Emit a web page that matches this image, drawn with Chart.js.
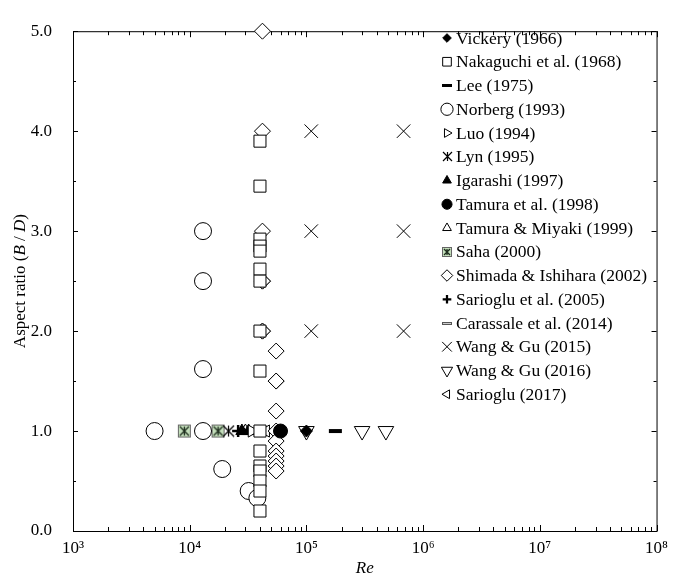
<!DOCTYPE html>
<html lang="en">
<head>
<meta charset="UTF-8">
<title>Aspect ratio vs Re</title>
<script src="https://cdn.jsdelivr.net/npm/chart.js@4"></script>
<style>
  body { margin: 0; background: #fff; }
  canvas { display: block; }
</style>
</head>
<body>
<canvas id="chart" width="675" height="581"></canvas>
<script>
// values, as [Re, B/D]
const vickery = [[1e5, 1.0]];
const nakaguchi = [[4e4, 3.9], [4e4, 3.45], [4e4, 2.92], [4e4, 2.85], [4e4, 2.8], [4e4, 2.62], [4e4, 2.5],
                   [4e4, 2.0], [4e4, 1.6], [4e4, 1.0], [4e4, 0.8], [4e4, 0.65], [4e4, 0.6], [4e4, 0.5], [4e4, 0.4], [4e4, 0.2]];
const lee = [[1.77e5, 1.0]];
const norberg = [[5e3, 1.0], [1.3e4, 1.0], [1.3e4, 1.62], [1.3e4, 2.5], [1.3e4, 3.0], [1.9e4, 0.62], [3.2e4, 0.4], [3.8e4, 0.33]];
const luo = [[3.4e4, 1.0]];
const lyn = [[2.15e4, 1.0]];
const igarashi = [[2.8e4, 1.0], [3.2e4, 1.0]];
const tamura = [[6e4, 1.0]];
const tamuraMiyaki = [[3.0e4, 1.0]];
const saha = [[9e3, 1.0], [1.75e4, 1.0]];
const shimada = [[4.2e4, 5.0], [4.2e4, 4.0], [4.2e4, 3.0], [4.2e4, 2.5], [4.2e4, 2.5], [4.2e4, 2.0], [4.2e4, 2.0],
                 [5.5e4, 1.8], [5.5e4, 1.5], [5.5e4, 1.5], [5.5e4, 1.2], [5.5e4, 1.0], [5.5e4, 0.9], [5.5e4, 0.8],
                 [5.5e4, 0.75], [5.5e4, 0.7], [5.5e4, 0.65], [5.5e4, 0.6]];
const sarioglu05 = [[2.6e4, 1.0]];
const carassale = [[3.7e4, 1.0]];
const wangGu15 = [[1.1e5, 2.0], [1.1e5, 3.0], [1.1e5, 4.0], [6.8e5, 2.0], [6.8e5, 3.0], [6.8e5, 4.0]];
const wangGu16 = [[1e5, 1.0], [3e5, 1.0], [4.8e5, 1.0]];
const sarioglu17 = [[4.5e4, 1.0]];

const seriesNames = ['Vickery (1966)', 'Nakaguchi et al. (1968)', 'Lee (1975)', 'Norberg (1993)', 'Luo (1994)',
  'Lyn (1995)', 'Igarashi (1997)', 'Tamura et al. (1998)', 'Tamura & Miyaki (1999)', 'Saha (2000)',
  'Shimada & Ishihara (2002)', 'Sarioglu et al. (2005)', 'Carassale et al. (2014)', 'Wang & Gu (2015)',
  'Wang & Gu (2016)', 'Sarioglu (2017)'];
const series = [vickery, nakaguchi, lee, norberg, luo, lyn, igarashi, tamura, tamuraMiyaki, saha,
  shimada, sarioglu05, carassale, wangGu15, wangGu16, sarioglu17];

const xTickValues = [1e3, 1e4, 1e5, 1e6, 1e7, 1e8];
const xTickLabels = ['10³', '10⁴', '10⁵', '10⁶', '10⁷', '10⁸'];
const yTickValues = [0, 1, 2, 3, 4, 5];

const FONT = '"Liberation Serif", "Times New Roman", serif';

// marker look for each series
const markers = [
  { style: 'rectRot', r: 6, fill: '#000' },
  { style: 'rect', r: 8.5 },
  { custom: 'lee' },
  { style: 'circle', r: 8.5 },
  { style: 'triangle', r: 7, rot: 90 },
  { custom: 'lyn' },
  { style: 'triangle', r: 7, fill: '#000' },
  { style: 'circle', r: 7, fill: '#000' },
  { style: 'triangle', r: 7 },
  { custom: 'saha' },
  { style: 'rectRot', r: 8 },
  { style: 'cross', r: 6, bw: 2.5 },
  { custom: 'carassale' },
  { style: 'crossRot', r: 9.5 },
  { style: 'triangle', r: 9, rot: 180 },
  { style: 'triangle', r: 7, rot: 270 }
];

function makeCanvas(kind, k) {
  const c = document.createElement('canvas');
  const g = c.getContext('2d');
  if (kind === 'lee' || kind === 'carassale') {
    c.width = Math.round(13 * k) + 2;
    c.height = Math.round(4 * k) + 2;
    if (kind === 'lee') {
      g.fillStyle = '#000';
      g.fillRect(1, 1, c.width - 2, c.height - 2);
    } else {
      g.fillStyle = '#ccc';
      g.fillRect(1, 1, c.width - 2, c.height - 2);
      g.strokeStyle = '#555';
      g.lineWidth = 1;
      g.strokeRect(1.5, 1.5, c.width - 3, c.height - 3);
    }
  } else if (kind === 'saha') {
    const s = Math.round(13 * k);
    c.width = c.height = s + 2;
    g.fillStyle = '#c4dfbb';
    g.fillRect(1, 1, s, s);
    g.strokeStyle = '#666';
    g.lineWidth = 1;
    g.strokeRect(1.5, 1.5, s - 1, s - 1);
    g.strokeStyle = '#1c2c1c';
    g.lineWidth = 1.3;
    g.beginPath();
    g.moveTo(3, 3); g.lineTo(s - 1, s - 1);
    g.moveTo(s - 1, 3); g.lineTo(3, s - 1);
    g.moveTo(c.width / 2, 3); g.lineTo(c.width / 2, s - 1);
    g.stroke();
  } else if (kind === 'lyn') {
    const s = Math.round(11 * k);
    c.width = c.height = s + 2;
    g.strokeStyle = '#000';
    g.lineWidth = 1.2;
    g.beginPath();
    g.moveTo(1, 1); g.lineTo(s + 1, s + 1);
    g.moveTo(s + 1, 1); g.lineTo(1, s + 1);
    g.moveTo(c.width / 2, 1); g.lineTo(c.width / 2, s + 1);
    g.stroke();
  }
  return c;
}

markers.forEach(m => {
  if (m.custom) {
    m.canvas = makeCanvas(m.custom, 1);
    m.legendCanvas = makeCanvas(m.custom, 0.8);
  }
});

// simple marker painter for the legend
function drawShape(g, m, x, y, k) {
  if (m.custom) {
    const img = m.legendCanvas;
    g.drawImage(img, Math.round(x - img.width / 2), Math.round(y - img.height / 2));
    return;
  }
  const r = m.r * k;
  g.save();
  g.translate(x, y);
  g.rotate((m.rot || 0) * Math.PI / 180);
  g.beginPath();
  let fillable = true;
  if (m.style === 'circle') {
    g.arc(0, 0, r, 0, Math.PI * 2);
  } else if (m.style === 'rect') {
    const s = r * Math.SQRT1_2;
    g.rect(-s, -s, 2 * s, 2 * s);
  } else if (m.style === 'rectRot') {
    g.moveTo(0, -r); g.lineTo(r, 0); g.lineTo(0, r); g.lineTo(-r, 0); g.closePath();
  } else if (m.style === 'triangle') {
    for (let i = 0; i < 3; i++) {
      const a = i * 2 * Math.PI / 3;
      g.lineTo(Math.sin(a) * r, -Math.cos(a) * r);
    }
    g.closePath();
  } else if (m.style === 'cross') {
    g.moveTo(-r, 0); g.lineTo(r, 0); g.moveTo(0, -r); g.lineTo(0, r);
    fillable = false;
  } else if (m.style === 'crossRot') {
    const s = r * Math.SQRT1_2;
    g.moveTo(-s, -s); g.lineTo(s, s); g.moveTo(s, -s); g.lineTo(-s, s);
    fillable = false;
  }
  g.fillStyle = m.fill || '#fff';
  g.strokeStyle = '#000';
  g.lineWidth = (m.bw || 1) * (m.style === 'cross' ? 0.9 : 1);
  if (fillable) g.fill();
  g.stroke();
  g.restore();
}

// box with inward ticks on all four sides
const framePlugin = {
  id: 'frame',
  beforeDatasetsDraw(chart) {
    const { ctx, chartArea: a, scales } = chart;
    const xs = scales.x, ys = scales.y;
    ctx.save();
    ctx.strokeStyle = '#000';
    ctx.lineWidth = 1;
    ctx.strokeRect(a.left + 0.5, a.top + 0.5, a.right - a.left, a.bottom - a.top);
    ctx.beginPath();
    for (let e = 3; e <= 8; e++) {
      for (let m = 1; m <= 9; m++) {
        if (e === 8 && m > 1) break;
        const px = Math.round(xs.getPixelForValue(m * Math.pow(10, e))) + 0.5;
        const len = m === 1 ? 6 : 4;
        ctx.moveTo(px, a.bottom); ctx.lineTo(px, a.bottom - len);
        ctx.moveTo(px, a.top); ctx.lineTo(px, a.top + len);
      }
    }
    for (let v = 0; v <= 5; v += 0.5) {
      const py = Math.round(ys.getPixelForValue(v)) + 0.5;
      const len = Number.isInteger(v) ? 5 : 3;
      ctx.moveTo(a.left, py); ctx.lineTo(a.left + len, py);
      ctx.moveTo(a.right, py); ctx.lineTo(a.right - len, py);
    }
    ctx.stroke();
    ctx.restore();
  }
};

// legend placed inside the plot, top right
const legendPlugin = {
  id: 'insideLegend',
  afterDatasetsDraw(chart) {
    const ctx = chart.ctx;
    ctx.save();
    ctx.textBaseline = 'middle';
    seriesNames.forEach((name, i) => {
      const y = 38 + i * 23.75;
      drawShape(ctx, markers[i], 447, y, 0.72);
      ctx.font = '17.5px ' + FONT;
      ctx.fillStyle = '#000';
      ctx.fillText(name, 456, y + 1);
    });
    ctx.restore();
  }
};

// axis titles with italic parts
const titlePlugin = {
  id: 'titles',
  afterDraw(chart) {
    const { ctx, chartArea: a } = chart;
    ctx.save();
    ctx.fillStyle = '#000';
    ctx.textBaseline = 'middle';
    const parts = [['Aspect ratio (', false], ['B', true], [' / ', false], ['D', true], [')', false]];
    const fontOf = it => (it ? 'italic ' : '') + '17px ' + FONT;
    let total = 0;
    parts.forEach(p => { ctx.font = fontOf(p[1]); total += ctx.measureText(p[0]).width; });
    ctx.translate(21, (a.top + a.bottom) / 2);
    ctx.rotate(-Math.PI / 2);
    let x = -total / 2;
    parts.forEach(p => { ctx.font = fontOf(p[1]); ctx.fillText(p[0], x, 0); x += ctx.measureText(p[0]).width; });
    ctx.restore();

    ctx.save();
    ctx.fillStyle = '#000';
    ctx.font = 'italic 17px ' + FONT;
    ctx.textAlign = 'center';
    ctx.textBaseline = 'middle';
    ctx.fillText('Re', (a.left + a.right) / 2, 569);
    ctx.restore();
  }
};

new Chart(document.getElementById('chart').getContext('2d'), {
  type: 'scatter',
  data: {
    datasets: series.map((pts, i) => {
      const m = markers[i];
      return {
        label: seriesNames[i],
        data: pts.map(p => ({ x: p[0], y: p[1] })),
        pointStyle: m.custom ? m.canvas : m.style,
        pointRadius: m.r || 6,
        pointHoverRadius: m.r || 6,
        pointRotation: m.rot || 0,
        pointBackgroundColor: m.fill || '#fff',
        pointBorderColor: '#000',
        pointBorderWidth: m.bw || 1,
        clip: false
      };
    })
  },
  options: {
    responsive: false,
    animation: false,
    events: [],
    layout: { padding: { top: 14, right: 15, left: 0, bottom: 0 } },
    plugins: { legend: { display: false }, tooltip: { enabled: false } },
    scales: {
      x: {
        type: 'logarithmic',
        min: 1e3,
        max: 1e8,
        grid: { display: false, drawTicks: false },
        border: { display: false },
        afterBuildTicks: s => { s.ticks = xTickValues.map(v => ({ value: v })); },
        afterFit: s => { s.height = 50; },
        ticks: {
          autoSkip: false,
          maxRotation: 0,
          padding: 7,
          color: '#000',
          font: { family: FONT, size: 17 },
          callback: (v, i) => xTickLabels[i]
        }
      },
      y: {
        min: 0,
        max: 5,
        grid: { display: false, drawTicks: false },
        border: { display: false },
        afterBuildTicks: s => { s.ticks = yTickValues.map(v => ({ value: v })); },
        afterFit: s => { s.width = 73; },
        ticks: {
          padding: 21,
          color: '#000',
          font: { family: FONT, size: 17 },
          callback: v => v.toFixed(1)
        }
      }
    }
  },
  plugins: [framePlugin, legendPlugin, titlePlugin]
});
</script>
</body>
</html>
